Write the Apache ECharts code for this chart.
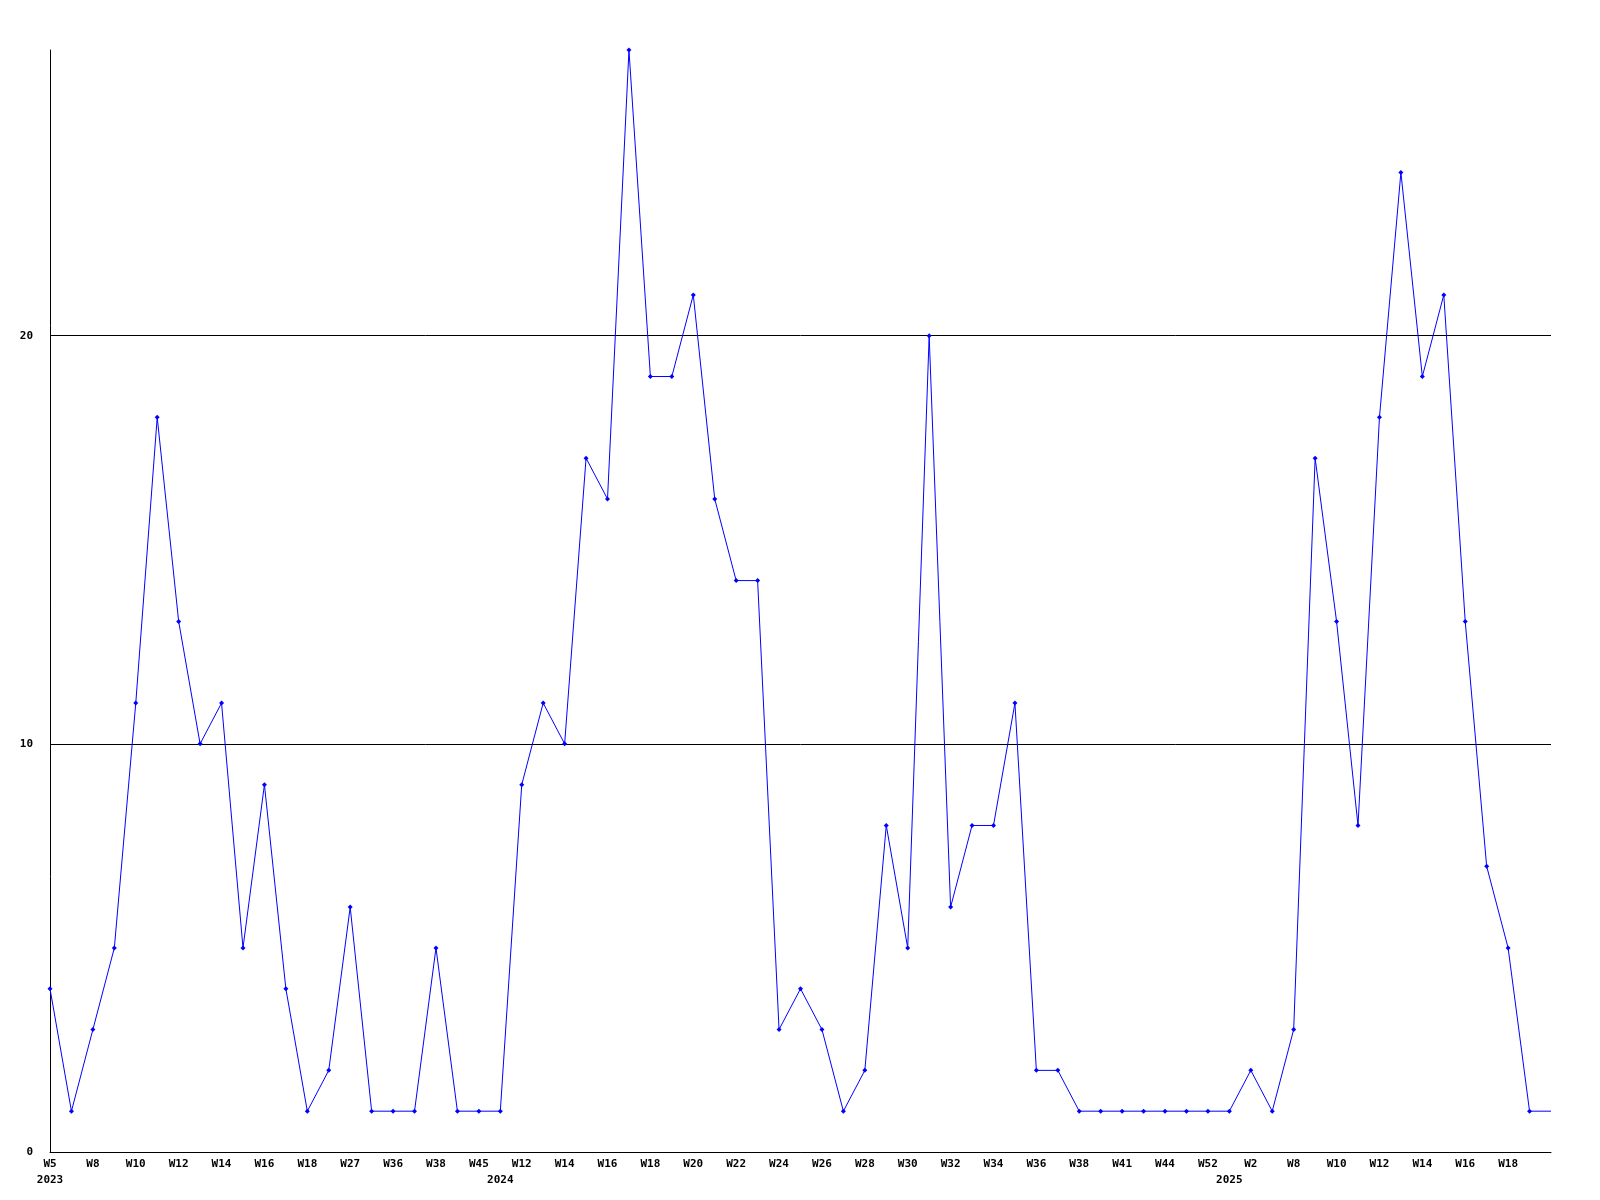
<!DOCTYPE html>
<html>
<head>
<meta charset="utf-8">
<script src="https://cdn.jsdelivr.net/npm/echarts@6/dist/echarts.min.js"></script>
<style>
html,body{margin:0;padding:0;background:#fff;}
#chart{width:1600px;height:1200px;}
</style>
</head>
<body>
<div id="chart"></div>
<script>
// Week categories (year + ISO week)
const categories = [
  '2023 W5','2023 W6','2023 W8','2023 W9','2023 W10','2023 W11','2023 W12','2023 W13','2023 W14','2023 W15',
  '2023 W16','2023 W17','2023 W18','2023 W26','2023 W27','2023 W35','2023 W36','2023 W37','2023 W38','2023 W44',
  '2023 W45','2024 W1','2024 W12','2024 W13','2024 W14','2024 W15','2024 W16','2024 W17','2024 W18','2024 W19',
  '2024 W20','2024 W21','2024 W22','2024 W23','2024 W24','2024 W25','2024 W26','2024 W27','2024 W28','2024 W29',
  '2024 W30','2024 W31','2024 W32','2024 W33','2024 W34','2024 W35','2024 W36','2024 W37','2024 W38','2024 W40',
  '2024 W41','2024 W43','2024 W44','2024 W51','2024 W52','2025 W1','2025 W2','2025 W7','2025 W8','2025 W9',
  '2025 W10','2025 W11','2025 W12','2025 W13','2025 W14','2025 W15','2025 W16','2025 W17','2025 W18','2025 W19',
  '2025 W20'
];
// Weekly counts
const values = [
  4,1,3,5,11,18,13,10,11,5,
  9,4,1,2,6,1,1,1,5,1,
  1,1,9,11,10,17,16,27,19,19,
  21,16,14,14,3,4,3,1,2,8,
  5,20,6,8,8,11,2,2,1,1,
  1,1,1,1,1,1,2,1,3,17,
  13,8,18,24,19,21,13,7,5,1,
  1
];
const yTicks = [0, 10, 20];
const yMax = 27;

const weekOf = c => c.split(' ')[1];
const yearOf = c => c.split(' ')[0];

const chart = echarts.init(document.getElementById('chart'));
const fontFamily = '"DejaVu Sans Mono", "Liberation Mono", monospace';
const lastIdx = values.length - 1;

const seriesData = values.map((v, i) => i === lastIdx ? { value: v, symbol: 'none' } : v);

chart.setOption({
  animation: false,
  backgroundColor: '#ffffff',
  grid: { left: 50, right: 49, top: 50, bottom: 48, containLabel: false },
  xAxis: [
    {
      type: 'category',
      data: categories,
      boundaryGap: false,
      position: 'bottom',
      axisLine: { show: true, lineStyle: { color: '#000', width: 1 } },
      axisTick: { show: false },
      splitLine: { show: false },
      axisLabel: {
        interval: (i) => i % 2 === 0 && i < lastIdx,
        formatter: (v) => weekOf(v),
        color: '#000',
        fontFamily,
        fontWeight: 'bold',
        fontSize: 11,
        margin: 7
      }
    },
    {
      type: 'category',
      data: categories,
      boundaryGap: false,
      position: 'bottom',
      offset: 16,
      axisLine: { show: false },
      axisTick: { show: false },
      splitLine: { show: false },
      axisLabel: {
        interval: (i) => i === 0 || yearOf(categories[i]) !== yearOf(categories[i - 1]),
        formatter: (v) => yearOf(v),
        color: '#000',
        fontFamily,
        fontWeight: 'bold',
        fontSize: 11,
        margin: 7
      }
    }
  ],
  yAxis: {
    type: 'value',
    min: yTicks[0],
    max: yMax,
    interval: yTicks[1] - yTicks[0],
    axisLine: { show: true, lineStyle: { color: '#000', width: 1 } },
    axisTick: { show: false },
    splitLine: { show: true, showMaxLine: false, lineStyle: { color: '#000', width: 1 } },
    axisLabel: {
      showMaxLabel: false,
      color: '#000',
      fontFamily,
      fontWeight: 'bold',
      fontSize: 11,
      margin: 17
    }
  },
  series: [{
    type: 'line',
    xAxisIndex: 0,
    data: seriesData,
    symbol: 'diamond',
    symbolSize: 5,
    showSymbol: true,
    lineStyle: { color: '#0000ff', width: 1 },
    itemStyle: { color: '#0000ff' },
    emphasis: { disabled: true }
  }]
});
</script>
</body>
</html>
